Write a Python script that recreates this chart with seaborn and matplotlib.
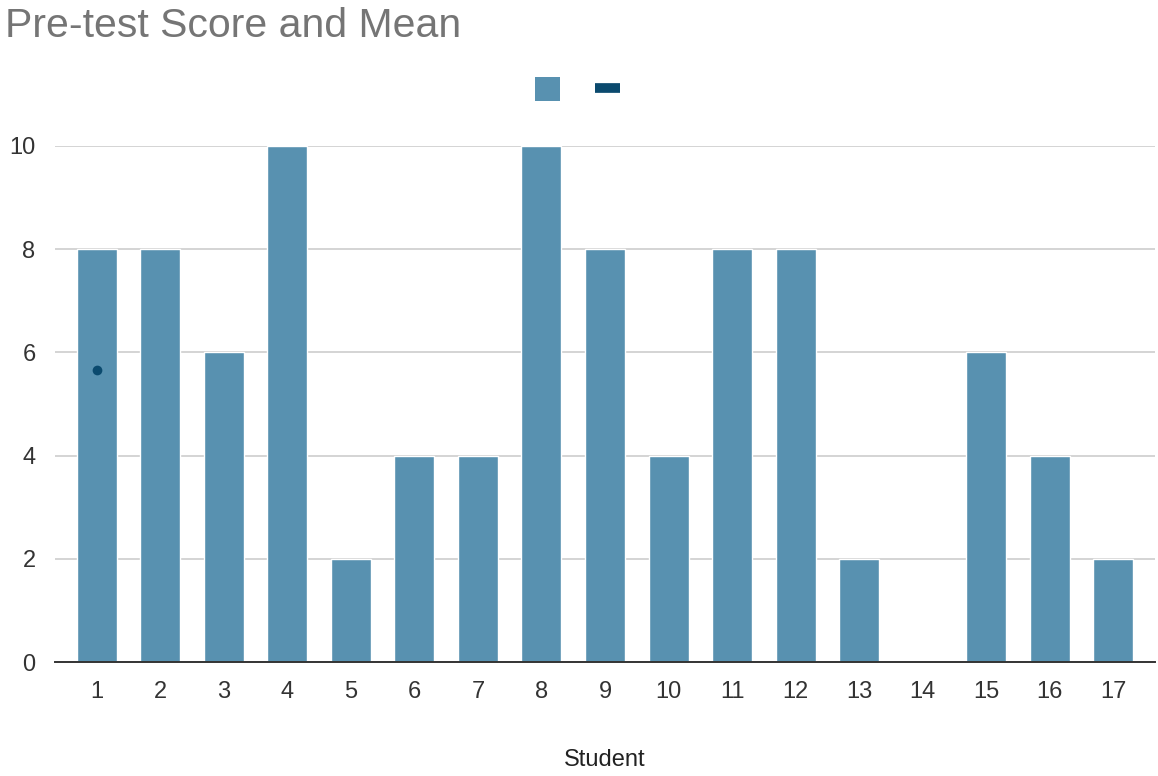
import numpy as np
import pandas as pd
import matplotlib
matplotlib.use("Agg")
import matplotlib.pyplot as plt
from matplotlib.patches import Patch
from matplotlib.lines import Line2D
import seaborn as sns

# Pre-test scores per student
students = [str(i) for i in range(1, 18)]
scores = [8, 8, 6, 10, 2, 4, 4, 10, 8, 4, 8, 8, 2, 0, 6, 4, 2]
# Mean series: only the first student carries a value
mean_values = [5.65] + [np.nan] * 16

bar_color = "#5891b0"
mean_color = "#0b4a6e"

sns.set_theme(style="white")
plt.rcParams["font.family"] = ["Liberation Sans", "DejaVu Sans"]

df = pd.DataFrame({"Student": students, "Score": scores, "Mean": mean_values})

fig = plt.figure(figsize=(11.58, 7.76), dpi=100)
ax = fig.add_axes([0.0475, 0.1469, 0.9499, 0.665])

sns.barplot(data=df, x="Student", y="Score", color=bar_color, saturation=1,
            width=0.63, ax=ax, zorder=2)
sns.lineplot(data=df, x="Student", y="Mean", color=mean_color, marker="o",
             markersize=7, markeredgewidth=0, ax=ax, zorder=3, sort=False)

ax.set_xlim(-0.66, 16.66)
ax.set_ylim(0, 10)
ax.set_yticks([0, 2, 4, 6, 8, 10])
ax.yaxis.grid(True, color="#d4d4d4", linewidth=1.4, zorder=0)
ax.set_axisbelow(True)
for side in ("top", "right", "left"):
    ax.spines[side].set_visible(False)
ax.spines["bottom"].set_color("#333333")
ax.spines["bottom"].set_linewidth(1.4)
ax.spines["bottom"].set_zorder(4)

ax.tick_params(axis="both", length=0, labelsize=17, labelcolor="#333333")
ax.tick_params(axis="y", pad=14)
ax.tick_params(axis="x", pad=14)
ax.set_ylabel("")
ax.set_xlabel("Student", fontsize=17, color="#222222", labelpad=33)

handles = [
    Patch(facecolor=bar_color, edgecolor="none"),
    Line2D([0], [0], color=mean_color, linewidth=7, solid_capstyle="butt"),
]
fig.legend(handles, ["", ""], loc="center", bbox_to_anchor=(0.502, 0.884),
           ncol=2, frameon=False, fontsize=18, handlelength=1.0,
           handleheight=1.1, columnspacing=1.1, handletextpad=0.3)

fig.text(0.004, 0.991, "Pre-test Score and Mean", fontsize=29.5, color="#757575",
         ha="left", va="top")

fig.savefig("out.png", dpi=100)
